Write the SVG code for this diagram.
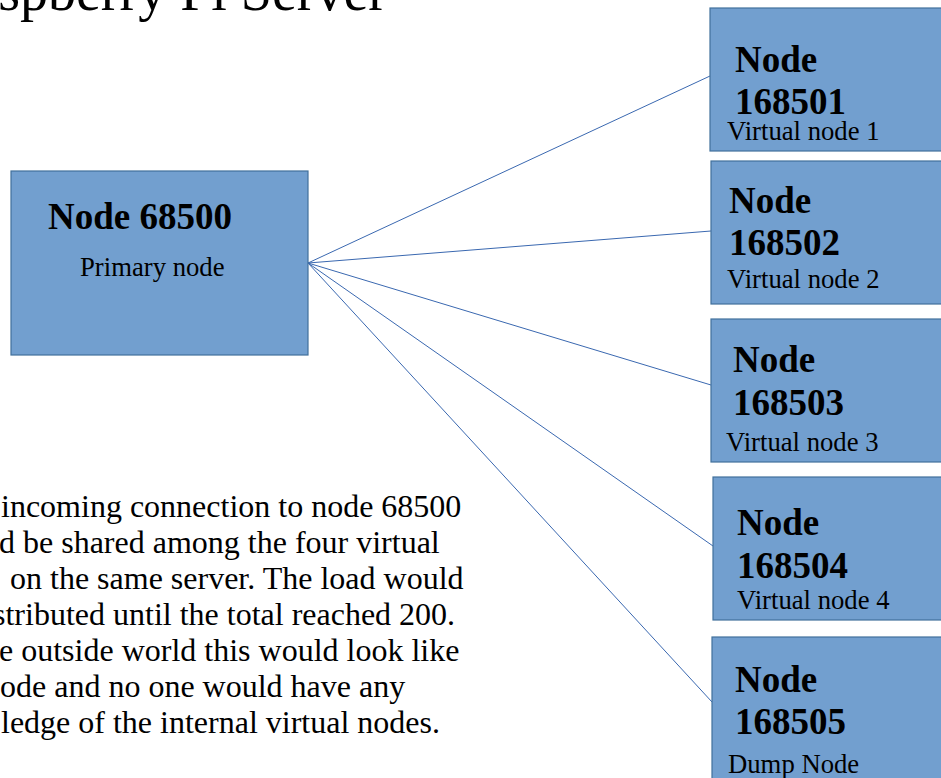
<svg xmlns="http://www.w3.org/2000/svg" width="941" height="778" viewBox="0 0 941 778">
<style>
.box{fill:#729fcf;stroke:#41719c;stroke-width:1.2}
.link{stroke:#3a68b0;stroke-width:1;fill:none}
.t{font-family:"Liberation Serif","Times New Roman",serif;fill:#000}
.b{font-weight:bold;font-size:37px}
.s{font-size:26.7px}
.body{font-size:32px}
</style>
<rect width="941" height="778" fill="#fff"/>
<text class="t" x="387" y="10" font-size="56" text-anchor="end">spberry Pi Server</text>
<g id="connectors">
<line class="link" x1="308" y1="263" x2="710" y2="76"/>
<line class="link" x1="308" y1="263" x2="711" y2="231"/>
<line class="link" x1="308" y1="263" x2="711" y2="385"/>
<line class="link" x1="308" y1="263" x2="713" y2="546"/>
<line class="link" x1="308" y1="263" x2="712" y2="702"/>
</g>
<g id="node68500">
<rect class="box" x="11" y="171" width="297" height="184"/>
<text class="t b" x="48" y="229">Node 68500</text>
<text class="t s" x="80" y="276">Primary node</text>
</g>
<g id="node168501">
<rect class="box" x="710" y="8" width="240" height="143"/>
<text class="t b" x="735" y="72">Node</text>
<text class="t b" x="735" y="114">168501</text>
<text class="t s" x="727" y="140">Virtual node 1</text>
</g>
<g id="node168502">
<rect class="box" x="711" y="161" width="240" height="143"/>
<text class="t b" x="729" y="213">Node</text>
<text class="t b" x="729" y="255">168502</text>
<text class="t s" x="727" y="288">Virtual node 2</text>
</g>
<g id="node168503">
<rect class="box" x="711" y="319" width="240" height="143"/>
<text class="t b" x="733" y="372">Node</text>
<text class="t b" x="733" y="415">168503</text>
<text class="t s" x="726" y="451">Virtual node 3</text>
</g>
<g id="node168504">
<rect class="box" x="713" y="477" width="240" height="143"/>
<text class="t b" x="737" y="535">Node</text>
<text class="t b" x="737" y="578">168504</text>
<text class="t s" x="737" y="609">Virtual node 4</text>
</g>
<g id="node168505">
<rect class="box" x="712" y="637" width="240" height="150"/>
<text class="t b" x="735" y="692">Node</text>
<text class="t b" x="735" y="734">168505</text>
<text class="t s" x="728" y="773">Dump Node</text>
</g>
<g id="description">
<text class="t body" x="1" y="517">incoming connection to node 68500</text>
<text class="t body" x="-1" y="553">d be shared among the four virtual</text>
<text class="t body" x="10" y="589">on the same server. The load would</text>
<text class="t body" x="-7" y="625">stributed until the total reached 200.</text>
<text class="t body" x="-1" y="661">e outside world this would look like</text>
<text class="t body" x="0" y="697">ode and no one would have any</text>
<text class="t body" x="1" y="733">ledge of the internal virtual nodes.</text>
</g>
</svg>
